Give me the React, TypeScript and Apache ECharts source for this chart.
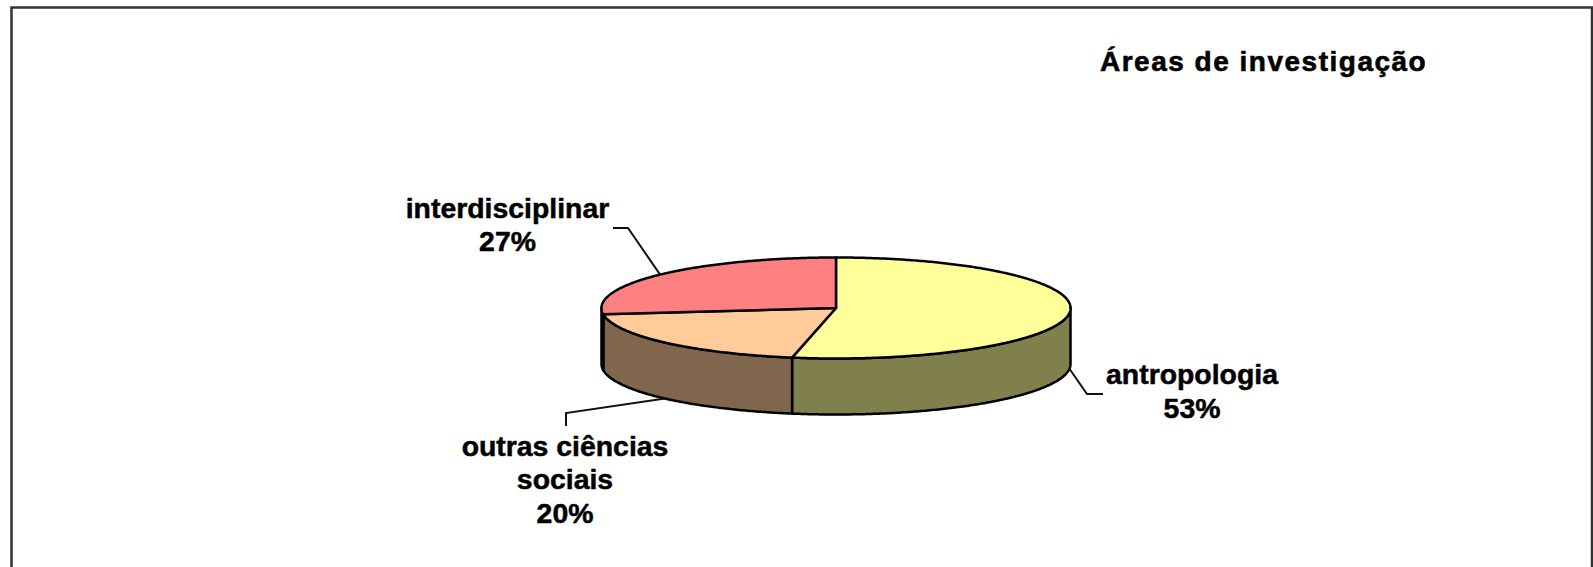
import React, { useEffect, useRef } from "react";
import * as echarts from "echarts";

const titleText = "Áreas de investigação";
const categories = ["antropologia", "outras ciências\nsociais", "interdisciplinar"];
const values = [53, 20, 27];
const topColors = ["#FFFF99", "#FFCC99", "#FF8080"];
const sideColors = ["#80804D", "#80664D", "#804040"];

const CX = 836;
const CY = 308;
const RX = 234.5;
const RY = 50.5;
const DEPTH = 56;
const FONT = '"Liberation Sans", Arial, sans-serif';
const labelCenters = [
  [1192, 391],
  [565, 479],
  [507.5, 224.5],
];
const leaderElbows = [
  [[1087, 394], [1103, 394]],
  [[566, 413], [566, 426]],
  [[628, 228], [613, 228]],
];
const leaderAnchorDrop = [DEPTH, DEPTH, 0];

const total = values.reduce((a, b) => a + b, 0);
const pointAt = (t: number, dy = 0) => [CX + RX * Math.sin(t), CY - RY * Math.cos(t) + dy];
const arcPoints = (a: number, b: number, dy = 0) => {
  const n = Math.max(2, Math.ceil(Math.abs(b - a) / 0.01));
  const out: number[][] = [];
  for (let i = 0; i <= n; i++) out.push(pointAt(a + ((b - a) * i) / n, dy));
  return out;
};

const renderItem = (params: any, api: any) => {
  const i = params.dataIndex;
  const v = api.value(0);
  const before = values.slice(0, i).reduce((a, b) => a + b, 0);
  const a0 = (before / total) * Math.PI * 2;
  const a1 = ((before + v) / total) * Math.PI * 2;
  const mid = (a0 + a1) / 2;
  const border = { stroke: "#000", lineWidth: 2.5, lineJoin: "round" };
  const children: any[] = [];

  // front wall: the part of the slice that lies on the near half of the ellipse
  const s0 = Math.max(a0, Math.PI / 2);
  const s1 = Math.min(a1, (Math.PI * 3) / 2);
  if (s1 > s0) {
    const top = arcPoints(s0, s1);
    const bottom = arcPoints(s1, s0, DEPTH);
    children.push({
      type: "polygon",
      shape: { points: [...top, ...bottom] },
      style: { fill: sideColors[i], ...border },
    });
  }
  // top face
  children.push({
    type: "polygon",
    shape: { points: [[CX, CY], ...arcPoints(a0, a1)] },
    style: { fill: topColors[i], ...border },
  });
  // leader line
  const anchor = pointAt(mid, leaderAnchorDrop[i]);
  children.push({
    type: "polyline",
    shape: { points: [anchor, ...leaderElbows[i]] },
    style: { fill: "none", stroke: "#111", lineWidth: 2 },
  });
  // label
  children.push({
    type: "text",
    x: labelCenters[i][0],
    y: labelCenters[i][1],
    style: {
      text: `${categories[i]}\n${v}%`,
      font: `bold 28.4px ${FONT}`,
      fill: "#000",
      stroke: "#000",
      lineWidth: 0.5,
      align: "center",
      verticalAlign: "middle",
      lineHeight: 33.5,
    },
  });
  return { type: "group", children };
};

export default function App() {
  const ref = useRef<HTMLDivElement>(null);
  useEffect(() => {
    document.body.style.margin = "0";
    const chart = echarts.init(ref.current!, null, { renderer: "svg" });
    chart.setOption({
      animation: false,
      backgroundColor: "#fff",
      title: {
        text: titleText,
        left: 1095,
        top: 42,
        textStyle: {
          fontFamily: FONT,
          fontWeight: "bold",
          fontSize: 28,
          color: "#000",
          textBorderColor: "#000",
          textBorderWidth: 0.6,
        },
      },
      graphic: [
        {
          type: "polyline",
          shape: { points: [[11.5, 570], [11.5, 7.5], [1592, 7.5], [1592, 570]] },
          style: { fill: "none", stroke: "#333", lineWidth: 2.5 },
          silent: true,
        },
      ],
      series: [
        {
          type: "custom",
          coordinateSystem: "none",
          renderItem,
          data: values,
        },
      ],
    });
    ref.current!.querySelectorAll("text").forEach((t) => {
      if (t.textContent === titleText) (t as any).style.letterSpacing = "1.5px";
    });
    return () => chart.dispose();
  }, []);
  return <div ref={ref} style={{ position: "fixed", left: 0, top: 0, width: 1593, height: 567, overflow: "hidden" }} />;
}
